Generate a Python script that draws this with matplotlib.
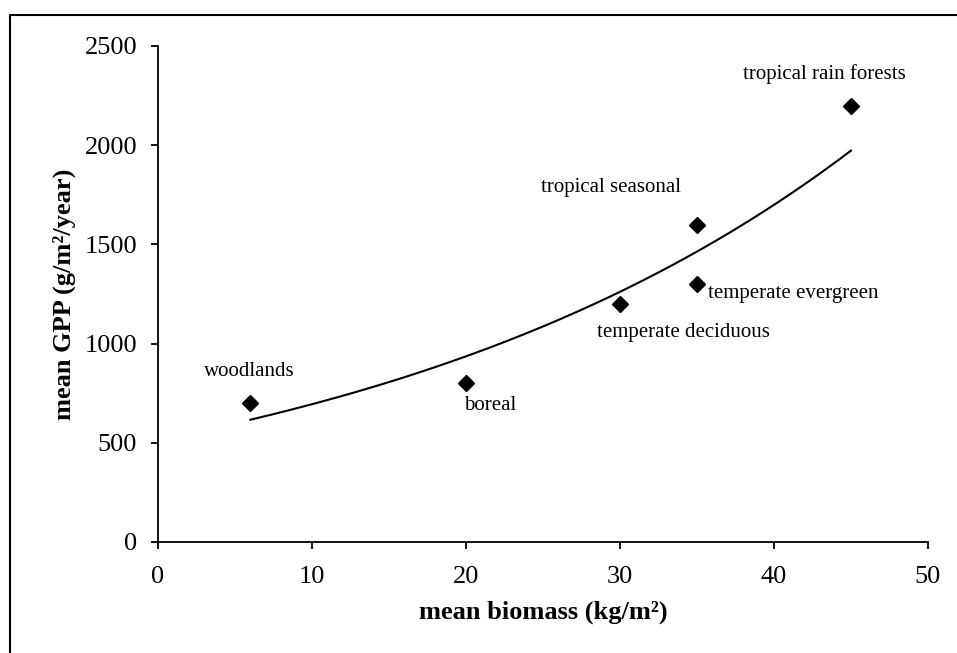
import numpy as np
import matplotlib
matplotlib.use("Agg")
import matplotlib.pyplot as plt
from matplotlib.lines import Line2D

plt.rcParams['font.family'] = ['Liberation Serif', 'DejaVu Serif']

# mean biomass (kg/m2) and mean GPP (g/m2/year) per biome
biomes = ['woodlands', 'boreal', 'temperate deciduous', 'temperate evergreen',
          'tropical seasonal', 'tropical rain forests']
biomass = [6, 20, 30, 35, 35, 45]
gpp = [700, 800, 1200, 1300, 1600, 2200]

# where each biome name is written (data coords) and how it is anchored
label_xy = [(5.9, 857), (19.9, 690), (34.1, 1058), (35.7, 1255),
            (29.4, 1789), (43.3, 2359)]
label_ha = ['center', 'left', 'center', 'left', 'center', 'center']

fig = plt.figure(figsize=(9.57, 6.53), dpi=100)
ax = fig.add_axes([158 / 957, 1 - 542 / 653, (928 - 158) / 957, (542 - 46) / 653])

# exponential trendline y = a*exp(b*x), fitted on log(y)
b, ln_a = np.polyfit(biomass, np.log(gpp), 1)
xs = np.linspace(min(biomass), max(biomass), 200)
ax.plot(xs, np.exp(ln_a) * np.exp(b * xs), color='black', lw=1.5, zorder=2)

ax.plot(biomass, gpp, 'D', color='black', ms=8, zorder=3, clip_on=False)

for name, (tx, ty), ha in zip(biomes, label_xy, label_ha):
    ax.text(tx, ty, name, ha=ha, va='center', fontsize=15)

ax.set_xlim(0, 50)
ax.set_ylim(0, 2500)
ax.set_xticks(range(0, 51, 10))
ax.set_yticks(range(0, 2501, 500))
ax.spines['top'].set_visible(False)
ax.spines['right'].set_visible(False)
for sp in ('left', 'bottom'):
    ax.spines[sp].set_linewidth(1.3)
ax.tick_params(axis='both', direction='out', length=5, width=1.3, labelsize=19)
ax.tick_params(axis='x', pad=12)
ax.tick_params(axis='y', pad=10)

ax.set_xlabel('mean biomass (kg/m²)', fontsize=19, fontweight='bold', labelpad=9)
ax.set_ylabel('mean GPP (g/m²/year)', fontsize=19, fontweight='bold', labelpad=6)

# chart area border (only the top and left edges fall inside the image)
fig.add_artist(Line2D([10 / 957, 10 / 957, 1.0], [0.0, 1 - 15 / 653, 1 - 15 / 653],
                      transform=fig.transFigure, color='black', lw=1.5))

fig.savefig('out.png', dpi=100, facecolor='white')
